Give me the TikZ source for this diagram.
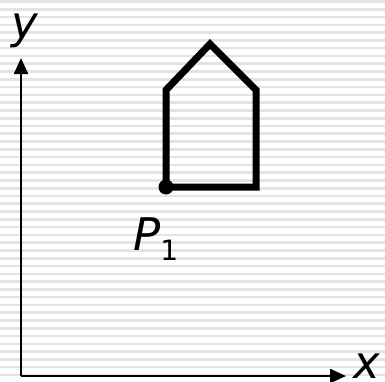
\documentclass[tikz,border=0pt]{standalone}
\usepackage{fontspec}
\setmainfont{DejaVu Sans}
\usetikzlibrary{arrows.meta}

\begin{document}
\begin{tikzpicture}[
  x=1pt, y=-1pt,
  stripe/.style={line width=2.6pt, black!11},
  axis/.style={line width=2.3pt, -{Triangle[length=16pt, width=14pt]}},
  house/.style={line width=7pt, line join=miter},
  lbl/.style={inner sep=0pt, font=\fontsize{45}{45}\selectfont\itshape}
]
  \useasboundingbox (0,0) rectangle (385,381);
  \fill[white] (0,0) rectangle (385,381);

  % striped background
  \foreach \i in {0,...,48}
    \draw[stripe] (0,1.5+7.78*\i) -- (385,1.5+7.78*\i);

  % axes
  \coordinate (O) at (21,376);
  \coordinate (ytip) at (21,58);
  \coordinate (xtip) at (346,376);
  \draw[axis] (O) -- (ytip);
  \draw[axis] (O) -- (xtip);
  \node[lbl, anchor=base] (ylabel) at (25,38) {y};
  \node[lbl, anchor=base] (xlabel) at (367,378.5) {x};

  % house
  \coordinate (P1) at (166,187);
  \coordinate (br) at (256,187);
  \coordinate (tr) at (256,90);
  \coordinate (apex) at (210,44);
  \coordinate (tl) at (166,90);
  \draw[house] (P1) -- (br) -- (tr) -- (apex) -- (tl) -- cycle;
  \fill (P1) circle (7.5);
  \node[lbl, anchor=base west] (plabel) at (133,250)
    {P\raisebox{-10pt}{\fontsize{28}{28}\selectfont\upshape 1}};
\end{tikzpicture}
\end{document}
